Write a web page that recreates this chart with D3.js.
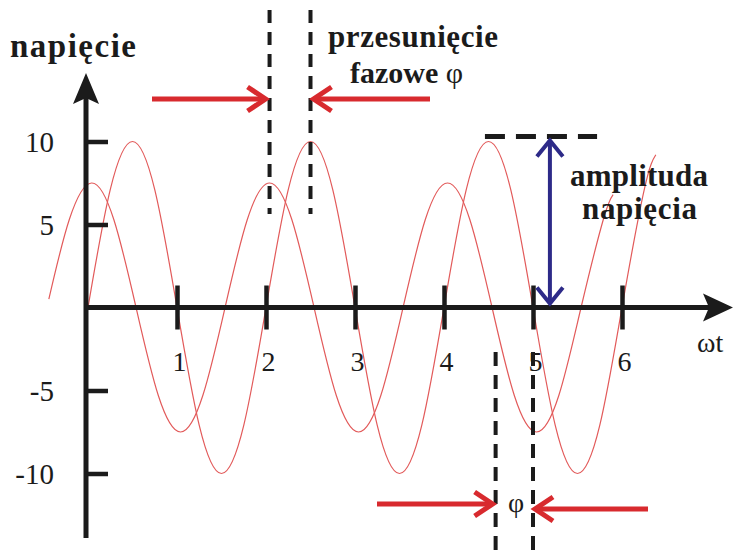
<!DOCTYPE html>
<html><head><meta charset="utf-8">
<script src="https://cdn.jsdelivr.net/npm/d3@7"></script>
<style>html,body{margin:0;padding:0;background:#fff;}svg{display:block;}</style>
</head><body>
<svg id="chart" width="734" height="558"></svg>
<script>
// ---- data ----
const xTicks = [1, 2, 3, 4, 5, 6];
const xTickLabels = ["1", "2", "3", "4", "5", "6"];
const yTicks = [10, 5, -5, -10];
const yTickLabels = ["10", "5", "-5", "-10"];
// wave with amplitude 10 (x in units of ωt, y in volts)
const wave1 = [[0,0],[0.25,7.1],[0.5,10],[0.75,7.1],[1,0],[1.25,-7.1],[1.5,-10],[1.75,-7.1],
  [2,0],[2.25,7.1],[2.5,10],[2.75,7.1],[3,0],[3.25,-7.1],[3.5,-10],[3.75,-7.1],
  [4,0],[4.25,7.1],[4.5,10],[4.75,7.1],[5,0],[5.25,-7.1],[5.5,-10],[5.75,-7.1],
  [6,0],[6.25,7.1],[6.38,9.2]];
// wave with amplitude 7.5
const wave2 = [[-0.44,0.5],[-0.21,5.3],[0.04,7.5],[0.29,5.3],[0.54,0],[0.79,-5.3],[1.04,-7.5],[1.29,-5.3],
  [1.54,0],[1.79,5.3],[2.04,7.5],[2.29,5.3],[2.54,0],[2.79,-5.3],[3.04,-7.5],[3.29,-5.3],
  [3.54,0],[3.79,5.3],[4.04,7.5],[4.29,5.3],[4.54,0],[4.79,-5.3],[5.04,-7.5],[5.29,-5.3],
  [5.54,0],[5.79,5.3],[5.9,6.8]];
const phaseTop = [2.04, 2.5];      // peaks marked by top dashed lines
const phaseBottom = [4.58, 5.0];   // bottom dashed lines
const amplitudeX = 5.19;           // position of amplitude arrow
const amplitudeValue = 10;
const texts = {
  yTitle: "napięcie", xTitle: "ωt",
  phase1: "przesunięcie", phase2: "fazowe ", phi: "φ",
  amp1: "amplituda", amp2: "napięcia"
};

// ---- scales ----
const x = d3.scaleLinear().domain([0, 6]).range([88, 622]);
const y = d3.scaleLinear().domain([-10, 10]).range([473.5, 141.5]);
const svg = d3.select("#chart");
const black = "#1b1b1b", red = "#d82a2e", wave = "#e25a5a", blue = "#2d2a88";
const serif = "Liberation Serif, Tinos, Times New Roman, Times, serif";

// ---- waves ----
const line = d3.line().x(d => x(d[0])).y(d => y(d[1])).curve(d3.curveNatural);
[wave1, wave2].forEach(w => svg.append("path").attr("d", line(w))
  .attr("fill", "none").attr("stroke", wave).attr("stroke-width", 1.2));

// ---- axes ----
const ax0 = x(0) - 2, ay0 = y(0);
svg.append("line").attr("x1", ax0).attr("x2", ax0).attr("y1", 538).attr("y2", 95)
  .attr("stroke", black).attr("stroke-width", 5);
svg.append("path").attr("d", `M${ax0},73 L${ax0-13},104 L${ax0},98 L${ax0+13},104 Z`).attr("fill", black);
svg.append("line").attr("x1", ax0).attr("x2", 712).attr("y1", ay0).attr("y2", ay0)
  .attr("stroke", black).attr("stroke-width", 5);
svg.append("path").attr("d", `M733,${ay0} L703,${ay0-14} L709,${ay0} L703,${ay0+14} Z`).attr("fill", black);

const xAxisG = svg.append("g").attr("transform", `translate(0,${ay0})`)
  .call(d3.axisBottom(x).tickValues(xTicks).tickFormat((d, i) => xTickLabels[i])
    .tickSizeInner(22).tickSizeOuter(0).tickPadding(40));
xAxisG.select(".domain").remove();
xAxisG.selectAll(".tick line").attr("y1", -22).attr("stroke", black).attr("stroke-width", 4.5);
xAxisG.selectAll(".tick text").attr("font-family", serif).attr("font-size", 28)
  .attr("fill", black).attr("dy", 0).attr("y", 63).attr("dx", 2);

const yAxisG = svg.append("g").attr("transform", `translate(${ax0},0)`)
  .call(d3.axisLeft(y).tickValues(yTicks).tickFormat((d, i) => yTickLabels[i])
    .tickSizeInner(22).tickSizeOuter(0).tickPadding(10));
yAxisG.select(".domain").remove();
yAxisG.selectAll(".tick line").attr("x2", 22).attr("stroke", black).attr("stroke-width", 4.5);
yAxisG.selectAll(".tick text").attr("font-family", serif).attr("font-size", 29)
  .attr("fill", black).attr("x", -32).attr("dy", "0.34em");

svg.append("text").attr("x", 10).attr("y", 57).text(texts.yTitle)
  .attr("font-family", serif).attr("font-weight", "bold").attr("font-size", 33)
  .attr("textLength", 126).attr("lengthAdjust", "spacing").attr("fill", black);
svg.append("text").attr("x", 697).attr("y", 352).text(texts.xTitle)
  .attr("font-family", serif).attr("font-size", 28).attr("fill", black);

// ---- dashed phase lines ----
phaseTop.forEach(v => svg.append("line").attr("x1", x(v)).attr("x2", x(v)).attr("y1", 10).attr("y2", 214)
  .attr("stroke", black).attr("stroke-width", 4).attr("stroke-dasharray", "13,9"));
phaseBottom.forEach(v => svg.append("line").attr("x1", x(v)).attr("x2", x(v)).attr("y1", 352).attr("y2", 558)
  .attr("stroke", black).attr("stroke-width", 4).attr("stroke-dasharray", "14,9"));

// amplitude dashed line
svg.append("line").attr("x1", x(4.46)).attr("x2", x(5.72)).attr("y1", y(amplitudeValue) - 5).attr("y2", y(amplitudeValue) - 5)
  .attr("stroke", black).attr("stroke-width", 5).attr("stroke-dasharray", "20,11");

// ---- arrows ----
function arrow(x1, y1, x2, y2, color, w, back, half) {
  const dx = x2 - x1, dy = y2 - y1, L = Math.hypot(dx, dy), ux = dx / L, uy = dy / L;
  svg.append("line").attr("x1", x1).attr("y1", y1).attr("x2", x2 - ux * 2).attr("y2", y2 - uy * 2)
    .attr("stroke", color).attr("stroke-width", w);
  const bx = x2 - ux * back, by = y2 - uy * back;
  svg.append("path").attr("d", `M${bx - uy * half},${by + ux * half} L${x2},${y2} L${bx + uy * half},${by - ux * half}`)
    .attr("fill", "none").attr("stroke", color).attr("stroke-width", w).attr("stroke-linecap", "butt")
    .attr("stroke-linejoin", "miter");
}
arrow(152, 99, x(phaseTop[0]) - 4, 99, red, 5, 18, 12);
arrow(430, 99, x(phaseTop[1]) + 3, 99, red, 5, 18, 12);
arrow(377, 504, x(phaseBottom[0]) - 3, 504, red, 5, 18, 12);
arrow(648, 509, x(phaseBottom[1]) + 2, 509, red, 5, 18, 12);
// amplitude double arrow
const ax = x(amplitudeX);
svg.append("line").attr("x1", ax).attr("x2", ax).attr("y1", y(amplitudeValue) - 1).attr("y2", ay0 - 4)
  .attr("stroke", blue).attr("stroke-width", 4);
svg.append("path").attr("d", `M${ax-13},${y(amplitudeValue)+15} L${ax},${y(amplitudeValue)-1} L${ax+13},${y(amplitudeValue)+15}`)
  .attr("fill", "none").attr("stroke", blue).attr("stroke-width", 4);
svg.append("path").attr("d", `M${ax-13},${ay0-20} L${ax},${ay0-4} L${ax+13},${ay0-20}`)
  .attr("fill", "none").attr("stroke", blue).attr("stroke-width", 4);

// ---- annotation texts ----
svg.append("text").attr("x", 328).attr("y", 47).text(texts.phase1)
  .attr("font-family", serif).attr("font-weight", "bold").attr("font-size", 31)
  .attr("textLength", 170).attr("lengthAdjust", "spacing").attr("fill", black);
const t2 = svg.append("text").attr("x", 350).attr("y", 83)
  .attr("font-family", serif).attr("font-size", 30).attr("fill", black);
t2.append("tspan").attr("font-weight", "bold").text(texts.phase2);
t2.append("tspan").text(texts.phi);
svg.append("text").attr("x", 570).attr("y", 186).text(texts.amp1)
  .attr("font-family", serif).attr("font-weight", "bold").attr("font-size", 31)
  .attr("textLength", 138).attr("lengthAdjust", "spacing").attr("fill", black);
svg.append("text").attr("x", 582).attr("y", 219).text(texts.amp2)
  .attr("font-family", serif).attr("font-weight", "bold").attr("font-size", 31)
  .attr("textLength", 115).attr("lengthAdjust", "spacing").attr("fill", black);
svg.append("text").attr("x", 516).attr("y", 512).attr("text-anchor", "middle").text(texts.phi)
  .attr("font-family", serif).attr("font-size", 28).attr("fill", black);
</script>
</body></html>
